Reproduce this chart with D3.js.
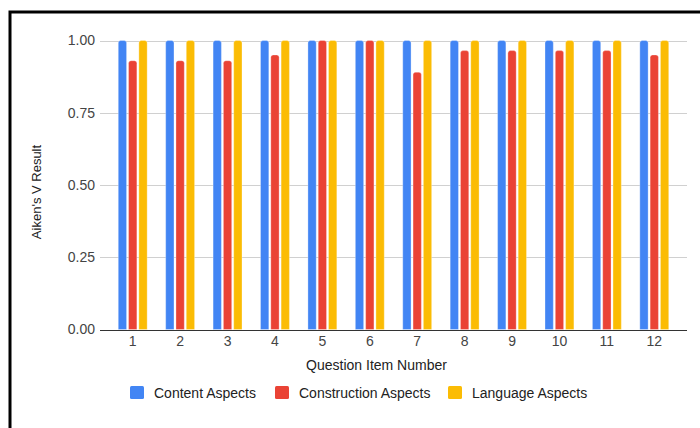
<!DOCTYPE html>
<html>
<head>
<meta charset="utf-8">
<script src="https://cdn.jsdelivr.net/npm/d3@7"></script>
<style>
  html, body { margin: 0; padding: 0; background: #fff; }
  svg { display: block; font-family: "Liberation Sans", Arial, sans-serif; }
</style>
</head>
<body>
<svg id="chart" width="700" height="428"></svg>
<script>
// Question items and Aiken's V per aspect
const items = ["1", "2", "3", "4", "5", "6", "7", "8", "9", "10", "11", "12"];
const seriesNames = ["Content Aspects", "Construction Aspects", "Language Aspects"];
const contentValues = [1, 1, 1, 1, 1, 1, 1, 1, 1, 1, 1, 1];
const constructionValues = [0.93, 0.93, 0.93, 0.95, 1, 1, 0.89, 0.965, 0.965, 0.965, 0.965, 0.95];
const languageValues = [1, 1, 1, 1, 1, 1, 1, 1, 1, 1, 1, 1];
const yTicks = [0, 0.25, 0.5, 0.75, 1];
const colors = ["#4285F4", "#EA4335", "#FBBC04"];

const seriesValues = [contentValues, constructionValues, languageValues];

const svg = d3.select("#chart");

// frame around the chart
svg.append("rect")
  .attr("x", 10).attr("y", 12)
  .attr("width", 720).attr("height", 440)
  .attr("fill", "none").attr("stroke", "#000").attr("stroke-width", 3);

const plotLeft = 100, plotRight = 687, plotTop = 40.5, plotBottom = 329.5;

const x0 = d3.scaleBand().domain(items).range([plotLeft, plotRight]).paddingInner(0).paddingOuter(0.19);
const x1 = d3.scaleBand().domain(seriesNames).range([-14.45, 14.45]).paddingInner(0.194);
const y = d3.scaleLinear().domain([0, 1]).range([plotBottom, plotTop]);

// gridlines
svg.append("g")
  .selectAll("line")
  .data(yTicks.filter(t => t > 0))
  .join("line")
  .attr("x1", plotLeft).attr("x2", plotRight)
  .attr("y1", d => Math.round(y(d)) + 0.5).attr("y2", d => Math.round(y(d)) + 0.5)
  .attr("stroke", "#d0d0d0").attr("stroke-width", 1);

// y axis labels
const yAxis = d3.axisLeft(y).tickValues(yTicks).tickFormat(d3.format(".2f")).tickSize(0).tickPadding(5);
const gy = svg.append("g").attr("transform", `translate(${plotLeft},0)`).call(yAxis);
gy.select(".domain").remove();
gy.selectAll("text").attr("font-size", 14).attr("fill", "#444").attr("font-family", "Liberation Sans, Arial, sans-serif");

// bars with slightly rounded tops
function barPath(x, w, y0, y1, r) {
  const h = y0 - y1;
  r = Math.min(r, w / 2, h);
  return `M${x},${y0}V${y1 + r}Q${x},${y1} ${x + r},${y1}H${x + w - r}Q${x + w},${y1} ${x + w},${y1 + r}V${y0}Z`;
}

const groups = svg.append("g")
  .selectAll("g")
  .data(items)
  .join("g")
  .attr("transform", d => `translate(${x0(d) + x0.bandwidth() / 2},0)`);

groups.selectAll("path")
  .data((d, i) => seriesNames.map((s, k) => ({ s, k, v: seriesValues[k][i] })))
  .join("path")
  .attr("d", d => barPath(x1(d.s), x1.bandwidth(), y(0), y(d.v), 2.5))
  .attr("fill", d => colors[d.k])
  .attr("stroke", "#fff").attr("stroke-opacity", 0.5).attr("stroke-width", 0.6);

// baseline
svg.append("line")
  .attr("x1", plotLeft).attr("x2", plotRight)
  .attr("y1", Math.round(y(0)) + 0.5).attr("y2", Math.round(y(0)) + 0.5)
  .attr("stroke", "#333").attr("stroke-width", 1);

// x axis labels
const xAxis = d3.axisBottom(x0).tickSize(0).tickPadding(7);
const gx = svg.append("g").attr("transform", `translate(0,${plotBottom})`).call(xAxis);
gx.select(".domain").remove();
gx.selectAll("text").attr("font-size", 14).attr("fill", "#444").attr("font-family", "Liberation Sans, Arial, sans-serif");

// axis titles
svg.append("text")
  .attr("x", (plotLeft + plotRight) / 2 - 17).attr("y", 370)
  .attr("text-anchor", "middle").attr("font-size", 14).attr("fill", "#222")
  .text("Question Item Number");

svg.append("text")
  .attr("transform", `translate(41,${192}) rotate(-90)`)
  .attr("text-anchor", "middle").attr("font-size", 13).attr("fill", "#222")
  .text("Aiken's V Result");

// legend
const legendX = [130, 275, 448];
const legend = svg.append("g")
  .selectAll("g")
  .data(seriesNames)
  .join("g")
  .attr("transform", (d, i) => `translate(${legendX[i]},386)`);
legend.append("rect")
  .attr("width", 14).attr("height", 13).attr("rx", 1.5)
  .attr("fill", (d, i) => colors[i]);
legend.append("text")
  .attr("x", 24).attr("y", 11.5)
  .attr("font-size", 14).attr("fill", "#222")
  .text(d => d);
</script>
</body>
</html>
